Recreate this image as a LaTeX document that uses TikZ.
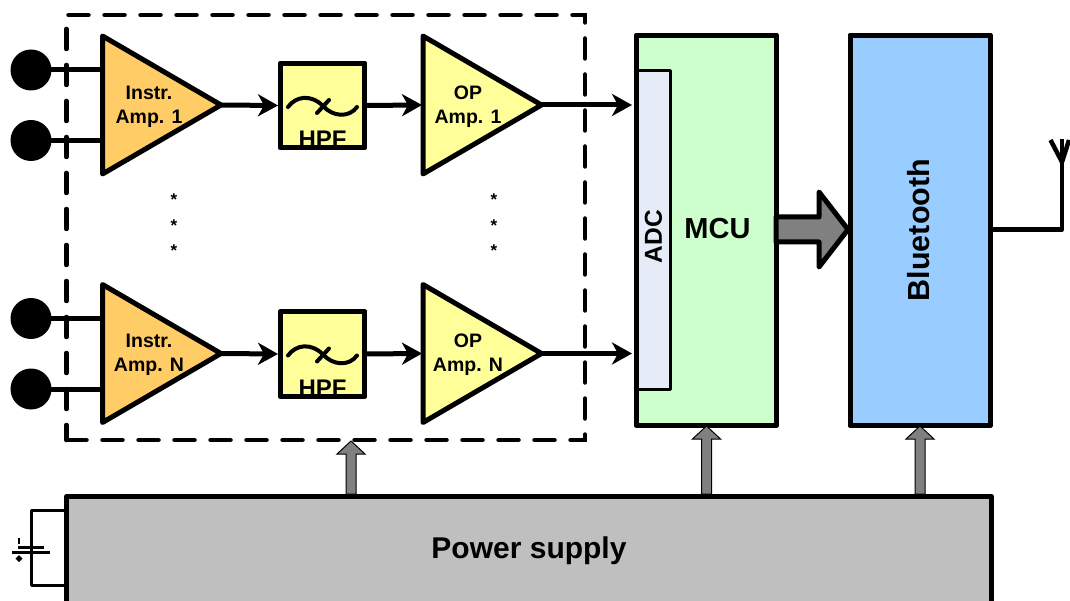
\documentclass[tikz,border=0pt]{standalone}
\usepackage{fontspec}
\setmainfont{Liberation Sans}
\usetikzlibrary{arrows.meta,shapes.geometric}
\tikzset{
  x=1pt,y=-1pt,
  base/.style={draw=black,line width=5pt,line join=round,inner sep=0pt,outer sep=0pt},
  block/.style={base,rectangle,anchor=north west},
  amp/.style={base,isosceles triangle,isosceles triangle apex angle=60,isosceles triangle stretches,
     minimum height=118.5pt,minimum width=138pt,anchor=lower side,fill=#1},
  lbl/.style={inner sep=0pt,outer sep=0pt,align=center,font=\bfseries\fontsize{19.5}{24}\selectfont},
  flow/.style={line width=5pt,-{Stealth[length=20pt,width=22pt,inset=6pt]}},
  wire/.style={line width=5pt},
  thin wire/.style={line width=3pt,line join=round},
  term/.style={circle,fill=black,minimum size=41pt,inner sep=0pt,outer sep=0pt},
  feed/.style={draw=black,line width=1pt,fill=black!50,line join=miter},
  star/.style={inner sep=0pt,font=\bfseries\fontsize{17}{20}\selectfont},
}
\definecolor{ampOrange}{HTML}{FFCC66}
\definecolor{ampYellow}{HTML}{FFFF99}
\definecolor{mcuGreen}{HTML}{CCFFCC}
\definecolor{btBlue}{HTML}{99CCFF}
\definecolor{adcBlue}{HTML}{E6ECF7}
\definecolor{psGray}{HTML}{BFBFBF}
\begin{document}
\begin{tikzpicture}
\useasboundingbox (0,0) rectangle (1070,601);
\clip (0,0) rectangle (1070,601);

% main blocks
\node[block,fill=mcuGreen,minimum width=139.5pt,minimum height=389.5pt] (mcu) at (636.5,35.5) {};
\node[block,fill=btBlue,minimum width=140pt,minimum height=389.5pt] (bt) at (850,35.5) {};
\node[block,fill=adcBlue,line width=3pt,minimum width=33.5pt,minimum height=318pt] (adc) at (636.5,71) {};
\draw[line width=5pt,line join=round] (mcu.north west) rectangle (mcu.south east);
\node[block,fill=psGray,minimum width=925pt,minimum height=120pt] (ps) at (66.5,496.5) {};

\node[font=\bfseries\fontsize{24.5}{28}\selectfont,rotate=90,inner sep=0pt] (adct) at (653.5,236.5) {ADC};
\node[font=\bfseries\fontsize{29}{34}\selectfont,inner sep=0pt] (mcut) at (717.5,229) {MCU};
\node[font=\bfseries\fontsize{30.5}{34}\selectfont,rotate=90,inner sep=0pt] (btt) at (919,230) {Bluetooth};
\node[font=\bfseries\fontsize{30}{34}\selectfont,inner sep=0pt] (pst) at (529,550.5) {Power supply};

% dashed group
\node[draw=black,line width=4.5pt,line cap=round,dash pattern=on 20pt off 16pt,rectangle,anchor=north west,
      minimum width=518.5pt,minimum height=425pt,inner sep=0pt,outer sep=0pt] (grp) at (66.5,15) {};

% two channels
\foreach \r/\dy in {1/0,N/248.5}{
  \node[term] (ta\r) at (31,70+\dy) {};
  \node[term] (tb\r) at (31,140.5+\dy) {};
  \coordinate (ina\r) at (102.5,70+\dy);
  \coordinate (inb\r) at (102.5,140.5+\dy);
  \draw[wire] (ta\r.center) -- (ina\r);
  \draw[wire] (tb\r.center) -- (inb\r);
  \node[amp=ampOrange] (ia\r) at (102.5,105+\dy) {};
  \node[amp=ampYellow] (oa\r) at (423,105+\dy) {};
  \node[block,fill=ampYellow,minimum width=84pt,minimum height=84pt] (hp\r) at (280.5,63.5+\dy) {};
  \node[lbl] (ial\r) at (149,106.5+\dy) {Instr.\\Amp. \r};
  \node[lbl] (oal\r) at (468,106.5+\dy) {OP\\Amp. \r};
  \node[inner sep=0pt,anchor=base,font=\bfseries\fontsize{24}{28}\selectfont] (hpl\r) at (322.5,147.5+\dy) {HPF};
  \draw[line width=5pt,line join=round] (hp\r.north west) rectangle (hp\r.south east);
  \draw[line width=4pt,line cap=round] (288,107+\dy) .. controls (296,96+\dy) and (311,94+\dy) .. (323,106+\dy)
     .. controls (333,117+\dy) and (349,118+\dy) .. (357,107+\dy);
  \draw[line width=4pt,line cap=round] (317,113+\dy) -- (329,100+\dy);
  \coordinate (hpin\r) at ([xshift=-2.5pt]hp\r.west);
  \coordinate (adcin\r) at (632,105+\dy);
  \coordinate (oain\r) at ([xshift=-1pt]oa\r.lower side);
  \draw[flow] (ia\r.apex) -- (hpin\r);
  \draw[flow] (hp\r.east) -- (oain\r);
  \draw[flow] (oa\r.apex) -- (adcin\r);
}

% ellipsis
\foreach \x/\n in {174/a,494/b}{
  \node[star] (s1\n) at (\x,199.5) {*};
  \node[star] (s2\n) at (\x,226) {*};
  \node[star] (s3\n) at (\x,251) {*};
}

% bus arrow MCU -> Bluetooth
\draw[base,fill=black!50] (776,217) -- (819,217) -- (819,192) -- (848,229.5) -- (819,267) -- (819,242) -- (776,242) -- cycle;
\draw[line width=5pt,line join=round] (bt.north west) rectangle (bt.south east);

% antenna
\coordinate (antf) at (1062,229.5);
\coordinate (antj) at (1062,162);
\coordinate (antt) at (1062,139);
\coordinate (antl) at (1050.5,140);
\coordinate (antr) at (1069,140);
\draw[line width=4.5pt,line join=round] (bt.east |- antf) -- (antf) -- (antt);
\draw[line width=4.5pt,line join=round] (antl) -- (antj) -- (antr);

% power feeds
\foreach \x/\t/\n in {351/441/a,706.5/426/b,920/426/c}{
  \coordinate (f\n) at (\x,494);
  \draw[feed] (\x-5,494) -- (\x-5,\t+13) -- (\x-14,\t+13) -- (\x,\t) -- (\x+14,\t+13) -- (\x+5,\t+13) -- (\x+5,494) -- cycle;
}

% battery
\coordinate (bt1) at (64,510.5);
\coordinate (bt2) at (31,510.5);
\coordinate (bt3) at (31,585);
\coordinate (bt4) at (64,585);
\draw[thin wire] (bt1) -- (bt2) -- (bt3) -- (bt4);
\draw[thin wire] (18,547) -- (44,547);
\draw[thin wire] (12,552.5) -- (50,552.5);
\draw[line width=2.5pt] (19,538) -- (19,544);
\fill (19,555) -- (22.5,558.5) -- (19,562) -- (15.5,558.5) -- cycle;
\end{tikzpicture}
\end{document}
